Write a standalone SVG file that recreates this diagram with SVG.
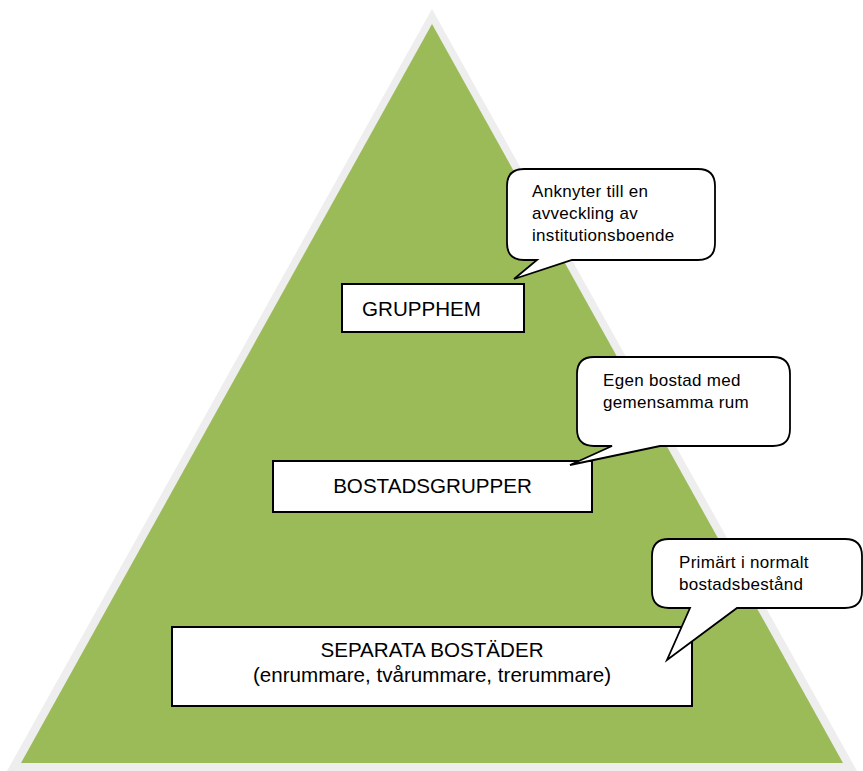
<svg xmlns="http://www.w3.org/2000/svg" width="863" height="771" viewBox="0 0 863 771">
<style>
.box{fill:#ffffff;stroke:#000000;stroke-width:2}
.call{fill:#ffffff;stroke:#000000;stroke-width:1.8;stroke-linejoin:miter}
.t{font-family:"Liberation Sans",Arial,sans-serif;fill:#000000}
.bt{font-size:20.6px}
.ct{font-size:17px;letter-spacing:0.3px}
</style>
<rect width="863" height="771" fill="#ffffff"/>
<g id="pyramid">
<polygon points="432,9 7,771 857,771" fill="#eeeeee"/>
<polygon points="432,24 21,763 843,763" fill="#9bbb59"/>
</g>
<g id="grupphem">
<rect class="box" x="342" y="284" width="182" height="48"/>
<text class="t bt" x="362" y="316">GRUPPHEM</text>
</g>
<g id="bostadsgrupper">
<rect class="box" x="273" y="461" width="319" height="51"/>
<text class="t bt" x="432.5" y="493" text-anchor="middle">BOSTADSGRUPPER</text>
</g>
<g id="separata">
<rect class="box" x="172" y="627" width="520" height="79"/>
<text class="t bt" x="432" y="657" text-anchor="middle">SEPARATA BOSTÄDER</text>
<text class="t bt" x="432" y="682" text-anchor="middle">(enrummare, tvårummare, trerummare)</text>
</g>
<g id="connectors">
<g id="callout1">
<path class="call" d="M524,169 H698 Q715,169 715,186 V243 Q715,260 698,260 H572 L514,279 L537,260 H524 Q507,260 507,243 V186 Q507,169 524,169 Z"/>
<text class="t ct" x="532" y="197">Anknyter till en</text>
<text class="t ct" x="532" y="219">avveckling av</text>
<text class="t ct" x="532" y="241">institutionsboende</text>
</g>
<g id="callout2">
<path class="call" d="M594,357 H773 Q790,357 790,374 V429 Q790,446 773,446 H660 L570,465 L612,446 H594 Q577,446 577,429 V374 Q577,357 594,357 Z"/>
<text class="t ct" x="603" y="386">Egen bostad med</text>
<text class="t ct" x="603" y="408">gemensamma rum</text>
</g>
<g id="callout3">
<path class="call" d="M669,539 H845 Q862,539 862,556 V591 Q862,608 845,608 H737 L667,660 L690,608 H669 Q652,608 652,591 V556 Q652,539 669,539 Z"/>
<text class="t ct" x="679" y="568">Primärt i normalt</text>
<text class="t ct" x="679" y="590">bostadsbestånd</text>
</g>
</g>
</svg>
